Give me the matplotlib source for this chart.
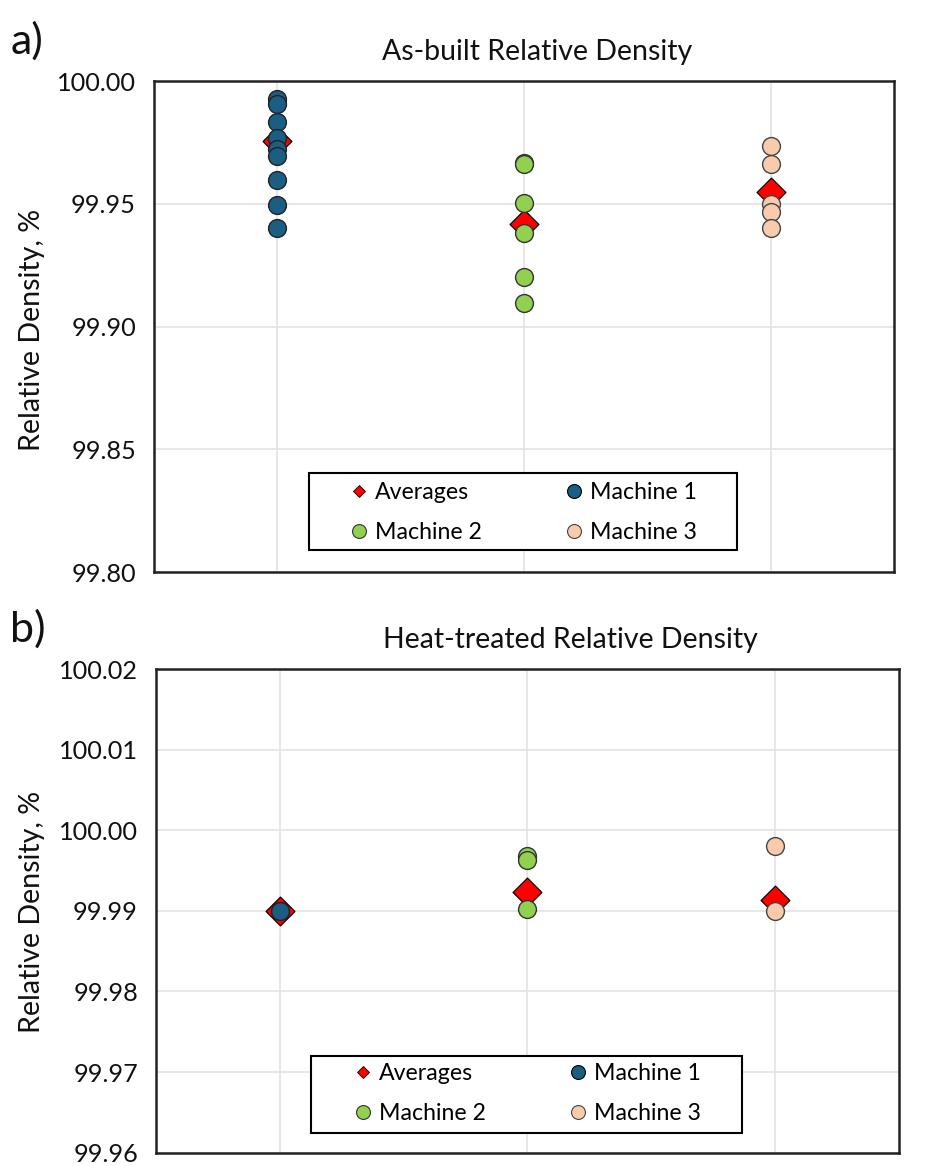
import matplotlib
matplotlib.use("Agg")
import matplotlib.pyplot as plt
from matplotlib.lines import Line2D
from matplotlib.patches import Rectangle
from matplotlib.ticker import FormatStrFormatter

plt.rcParams['font.family'] = ['Lato', 'DejaVu Sans']

# As-built relative density (%)
m1_built = [99.9926, 99.9905, 99.9835, 99.9770, 99.9722, 99.9695, 99.9598, 99.9496, 99.9400]
m2_built = [99.9665, 99.9661, 99.9503, 99.9383, 99.9200, 99.9096]
m3_built = [99.9736, 99.9661, 99.9499, 99.9465, 99.9401]
avg_built = [99.9756, 99.9418, 99.9550]

# Heat-treated relative density (%)
m1_heat = [99.9900]
m2_heat = [99.99685, 99.99636, 99.9902]
m3_heat = [99.9980, 99.9900]
avg_heat = [99.9900, 99.99237, 99.9913]

machines = [1, 2, 3]
c_avg = '#ff0000'
c_m1 = '#1b5e84'
c_m2 = '#92d050'
c_m3 = '#f8cbad'

fig = plt.figure(figsize=(9.25, 11.66), dpi=100)
ax1 = fig.add_axes([0.1665, 0.5094, 0.8, 0.4211])
ax2 = fig.add_axes([0.1686, 0.0115, 0.8032, 0.4147])


def draw(ax, m1, m2, m3, avg, ylim, step, title, letter, tx, ty, ly, leg_x, box):
    ax.scatter(machines, avg, marker='D', s=215, c=c_avg, edgecolors='black',
               linewidths=0.9, zorder=3)
    ax.scatter([1] * len(m1), m1, s=165, c=c_m1, edgecolors='#222222', linewidths=1, zorder=4)
    ax.scatter([2] * len(m2), m2, s=165, c=c_m2, edgecolors='#333333', linewidths=1, zorder=4)
    ax.scatter([3] * len(m3), m3, s=165, c=c_m3, edgecolors='#444444', linewidths=1, zorder=4)

    ax.set_xlim(0.5, 3.5)
    ax.set_ylim(*ylim)
    n = int(round((ylim[1] - ylim[0]) / step))
    ax.set_yticks([round(ylim[0] + i * step, 2) for i in range(n + 1)])
    ax.yaxis.set_major_formatter(FormatStrFormatter('%.2f'))
    ax.set_xticks(machines)
    ax.set_xticklabels([])
    ax.tick_params(axis='both', length=0, labelsize=18.2, pad=13, labelcolor='#111111')
    ax.grid(True, color='#e3e3e3', linewidth=1.2, zorder=0)
    ax.set_axisbelow(True)
    for s in ax.spines.values():
        s.set_linewidth(1.8)
        s.set_color('#222222')

    # legend frame drawn separately so the padding matches the reference
    ax.add_patch(Rectangle(box[:2], box[2], box[3], transform=ax.transAxes,
                           facecolor='white', edgecolor='black', linewidth=1.5, zorder=5))

    # row-wise order: Averages, Machine 1 / Machine 2, Machine 3
    handles = [
        Line2D([], [], marker='D', ls='none', ms=6.3, mfc=c_avg, mec='black', mew=0.6, label='Averages'),
        Line2D([], [], marker='o', ls='none', ms=10, mfc=c_m2, mec='#333333', mew=0.8, label='Machine 2'),
        Line2D([], [], marker='o', ls='none', ms=10, mfc=c_m1, mec='black', mew=0.8, label='Machine 1'),
        Line2D([], [], marker='o', ls='none', ms=10, mfc=c_m3, mec='#444444', mew=0.8, label='Machine 3'),
    ]
    leg = ax.legend(handles=handles, ncol=2, loc='center left', bbox_to_anchor=(leg_x, 0.1212),
                    fontsize=16.7, frameon=False, handletextpad=0.2, columnspacing=3.45,
                    handlelength=1.0, borderpad=0, labelspacing=0.82, borderaxespad=0)
    leg.set_zorder(6)

    fig.text(tx, ty, title, ha='center', va='center', fontsize=20.5, color='#111111')
    fig.text(0.011, ty + 0.009, letter, ha='left', va='center', fontsize=31, color='#111111')
    fig.text(0.035, ly, 'Relative Density, %', ha='center', va='center', rotation=90,
             fontsize=20.6, color='#111111')


draw(ax1, m1_built, m2_built, m3_built, avg_built, (99.80, 100.00), 0.05,
     'As-built Relative Density', 'a)', 537 / 925, 1 - 52 / 1166, 1 - 330 / 1166,
     0.2614, (0.2095, 0.0448, 0.5784, 0.1568))
draw(ax2, m1_heat, m2_heat, m3_heat, avg_heat, (99.96, 100.02), 0.01,
     'Heat-treated Relative Density', 'b)', 570 / 925, 1 - 640 / 1166, 1 - 912 / 1166,
     0.263, (0.2086, 0.0405, 0.580, 0.1593))

fig.savefig('out.png', dpi=100)
